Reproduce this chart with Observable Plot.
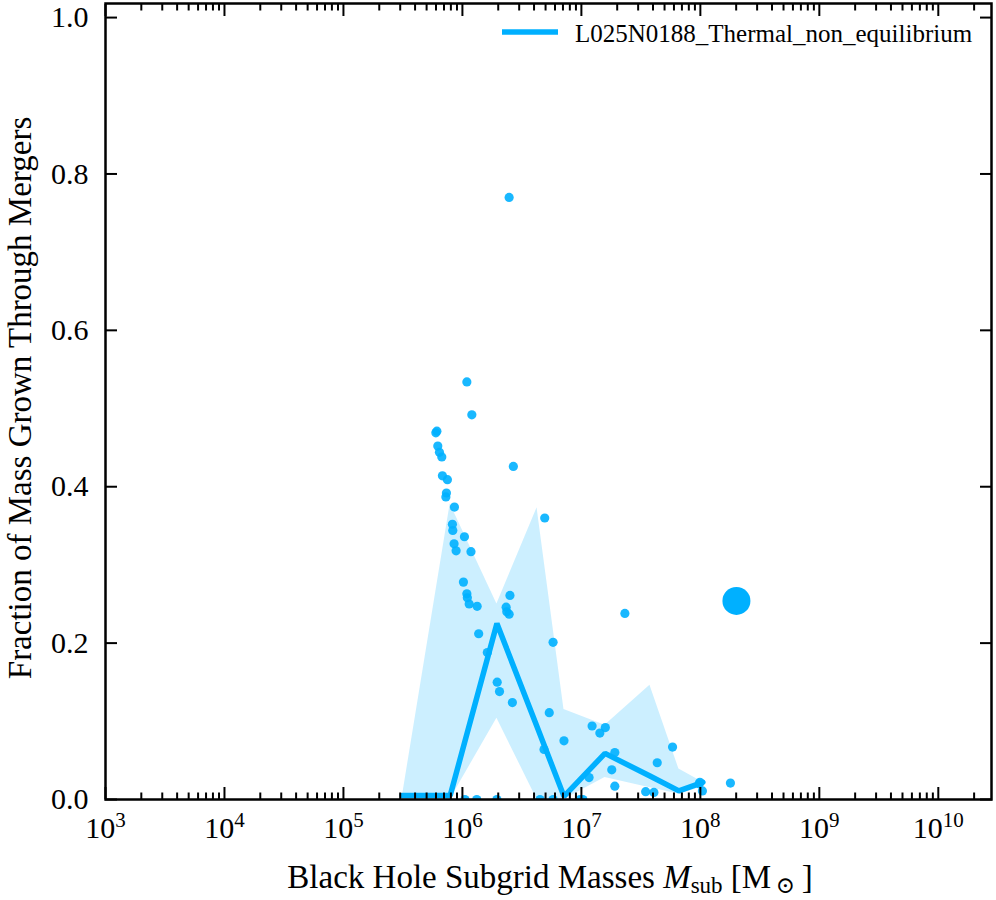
<!DOCTYPE html>
<html><head><meta charset="utf-8">
<script src="https://cdn.jsdelivr.net/npm/d3@7"></script>
<script src="https://cdn.jsdelivr.net/npm/@observablehq/plot@0.6"></script>
<style>body{margin:0;background:#fff} #wrap{position:relative;width:996px;height:900px}</style>
</head><body><div id="wrap"></div>
<script>
// individual black holes: subgrid mass [Msun] and merger fraction
const pointMass = [2.47e6,1.09e6,1.20e6,6.10e5,5.98e5,6.21e5,6.41e5,6.71e5,2.68e6,6.79e5,7.48e5,7.34e5,7.26e5,8.57e5,4.92e6,8.24e5,8.30e5,1.04e6,8.51e5,8.85e5,1.18e6,1.02e6,1.09e6,1.10e6,1.14e6,1.33e6,2.51e6,2.33e6,2.36e6,2.47e6,1.37e6,5.78e6,1.62e6,1.96e6,2.05e6,2.63e6,5.37e6,7.14e6,4.85e6,2.32e7,1.23e7,1.59e7,1.43e7,1.91e7,1.16e7,1.80e7,1.91e7,5.84e7,4.34e7,3.47e7,4.07e7,9.91e7,1.04e8,1.79e8,9.78e7,1.05e6,1.32e6,1.95e6,4.49e6,5.78e6,9.73e6,1.03e7];
const pointFrac = [0.770,0.534,0.492,0.471,0.469,0.452,0.444,0.438,0.426,0.414,0.409,0.392,0.387,0.374,0.360,0.352,0.344,0.336,0.327,0.318,0.317,0.278,0.263,0.258,0.250,0.247,0.261,0.246,0.240,0.237,0.212,0.201,0.188,0.150,0.138,0.124,0.111,0.075,0.064,0.238,0.094,0.092,0.085,0.060,0.028,0.038,0.017,0.067,0.047,0.010,0.009,0.022,0.011,0.021,0.020,0,0,0,0,0,0,0];
// highlighted black hole
const bigMass = [2.01e8];
const bigFrac = [0.254];
// binned median and percentile band
const binMass   = [3.12e5,7.89e5,1.95e6,4.24e6,7.14e6,1.58e7,3.77e7,6.60e7,1.05e8];
const binMedian = [0.005,0.005,0.225,0.093,0.004,0.059,0.030,0.011,0.022];
const binLower  = [0,0,0.104,0,0,0.028,0.015,0.007,0.016];
const binUpper  = [0.003,0.378,0.250,0.373,0.115,0.095,0.146,0.039,0.022];
// axes
const majorExp = [3,4,5,6,7,8,9,10];
const minorMult = [2,3,4,5,6,7,8,9];
const yTicks = [0,0.2,0.4,0.6,0.8,1.0];
const xDomain = [1e3, 2.8e10];
const yDomain = [0, 1.018];
const seriesName = "L025N0188_Thermal_non_equilibrium";
const yLabel = "Fraction of Mass Grown Through Mergers";

const color = "#00b0ff";
const points = pointMass.map((m,i)=>({m, f: pointFrac[i]}));
const big = bigMass.map((m,i)=>({m, f: bigFrac[i]}));
const bins = binMass.map((m,i)=>({m, med: binMedian[i], lo: binLower[i], hi: binUpper[i]}));
const majors = majorExp.map(e => 10**e);
const minors = [];
for (const e of [2,...majorExp]) for (const k of minorMult) { const v = k*10**e; if (v > xDomain[0] && v < xDomain[1]) minors.push(v); }

const tickAx = (anchor, ticks, size) => Plot.axisX({anchor, ticks, tickSize: -size, tickFormat: () => "", strokeWidth: 2, label: null});
const tickAy = (anchor, ticks, size) => Plot.axisY({anchor, ticks, tickSize: -size, tickFormat: () => "", strokeWidth: 2, label: null});

const chart = Plot.plot({
  width: 996, height: 900,
  marginLeft: 105, marginRight: 5, marginTop: 3, marginBottom: 101,
  style: {fontFamily: "'Liberation Serif', 'DejaVu Serif', serif", fontSize: "30px", background: "white", color: "black"},
  x: {type: "log", domain: xDomain},
  y: {domain: yDomain},
  marks: [
    Plot.areaY(bins, {x: "m", y1: "lo", y2: "hi", fill: color, fillOpacity: 0.2}),
    Plot.dot(points, {x: "m", y: "f", r: 4.6, fill: color, fillOpacity: 0.9, stroke: null, clip: true}),
    Plot.line(bins, {x: "m", y: "med", stroke: color, strokeWidth: 5.5, strokeLinejoin: "miter"}),
    Plot.dot(big, {x: "m", y: "f", r: 14, fill: color, stroke: null}),
    Plot.frame({stroke: "black", strokeWidth: 2.5}),
    tickAx("bottom", majors, 12), tickAx("bottom", minors, 6.5),
    tickAx("top", majors, 12), tickAx("top", minors, 6.5),
    tickAy("left", yTicks, 12), tickAy("right", yTicks, 12),
    Plot.axisX({anchor: "bottom", ticks: majors, tickSize: 0, tickPadding: 17, tickFormat: d => String(Math.round(Math.log10(d))), label: null}),
    Plot.axisY({anchor: "left", ticks: yTicks, tickSize: 0, tickPadding: 17, tickFormat: d3.format(".1f"), label: null})
  ]
});
document.getElementById("wrap").appendChild(chart);

const svg = d3.select(chart);
// superscript tick labels 10^n
svg.selectAll('g[aria-label="x-axis tick label"] text').each(function(){
  const e = this.textContent;
  if (!e) return;
  const t = d3.select(this); t.text("");
  t.append("tspan").text("10");
  t.append("tspan").attr("dy", -11).attr("font-size", 21).text(e);
});
const xs = chart.scale("x").range, ys = chart.scale("y").range;
const cx = (xs[0]+xs[1])/2, cy = (ys[0]+ys[1])/2;
// x label
const xl = svg.append("text").attr("x", cx + 2).attr("y", 888).attr("text-anchor", "middle").attr("font-size", 33).attr("fill", "black");
xl.append("tspan").text("Black Hole Subgrid Masses ");
xl.append("tspan").attr("font-style", "italic").text("M");
xl.append("tspan").attr("font-size", 23).attr("dy", 5).text("sub");
xl.append("tspan").attr("dy", -5).text(" [M");
xl.append("tspan").attr("font-size", 23).attr("dy", 5).text("\u2009\u2299");
xl.append("tspan").attr("dy", -5).text("\u2009]");
// y label
svg.append("text").attr("transform", `translate(31,${cy - 3}) rotate(-90)`).attr("text-anchor", "middle").attr("font-size", 33).attr("fill", "black").text(yLabel);
// legend
const lg = svg.append("g").attr("aria-label", "legend");
lg.append("line").attr("x1", 502).attr("x2", 558).attr("y1", 32).attr("y2", 32).attr("stroke", color).attr("stroke-width", 5.5);
lg.append("text").attr("x", 575).attr("y", 41.5).attr("text-anchor", "start").attr("font-size", 25).attr("fill", "black").text(seriesName);
</script></body></html>
